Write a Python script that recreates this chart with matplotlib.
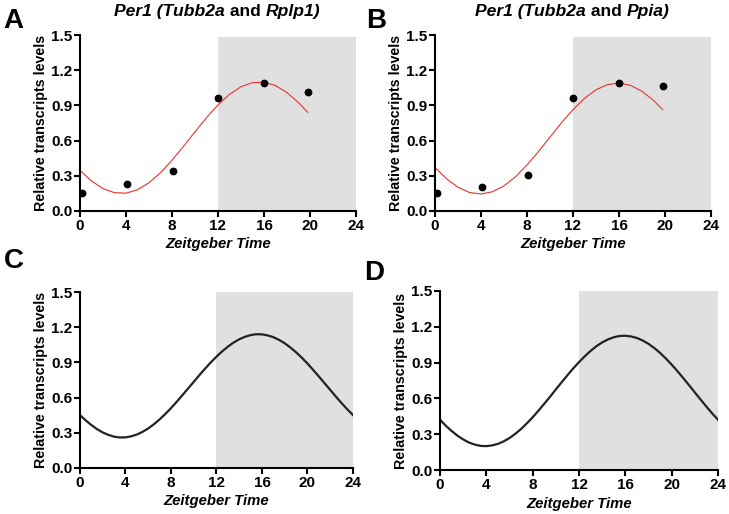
import matplotlib
matplotlib.use("Agg")
import matplotlib.pyplot as plt

plt.rcParams['font.family'] = ['Liberation Sans', 'DejaVu Sans']
plt.rcParams['font.weight'] = 'bold'

# measured Per1 levels (points) for panels A and B
zt_a = [0.2, 4.1, 8.1, 12.0, 16.0, 19.8]
per1_a = [0.15, 0.23, 0.345, 0.96, 1.095, 1.015]
zt_b = [0.2, 4.1, 8.1, 12.0, 16.0, 19.8]
per1_b = [0.15, 0.205, 0.31, 0.96, 1.095, 1.065]

# red fitted curves
fit_x = [0, 1, 2, 3, 4, 5, 6, 7, 8, 9, 10, 11, 12, 13, 14, 15, 16, 17, 18, 19, 19.8]
fit_a = [0.346, 0.256, 0.191, 0.156, 0.152, 0.181, 0.241, 0.326, 0.432, 0.551, 0.675,
         0.795, 0.904, 0.994, 1.059, 1.094, 1.098, 1.069, 1.009, 0.924, 0.841]
fit_b = [0.371, 0.275, 0.202, 0.158, 0.145, 0.164, 0.214, 0.292, 0.392, 0.507, 0.630,
         0.752, 0.864, 0.960, 1.033, 1.077, 1.090, 1.071, 1.020, 0.943, 0.864]

# black model curves for C and D, every half hour
curve_x = [0, 0.5, 1, 1.5, 2, 2.5, 3, 3.5, 4, 4.5, 5, 5.5, 6, 6.5, 7, 7.5, 8, 8.5,
           9, 9.5, 10, 10.5, 11, 11.5, 12, 12.5, 13, 13.5, 14, 14.5, 15, 15.5, 16,
           16.5, 17, 17.5, 18, 18.5, 19, 19.5, 20, 20.5, 21, 21.5, 22, 22.5, 23, 23.5, 24]
curve_c = [0.451, 0.406, 0.366, 0.331, 0.303, 0.282, 0.267, 0.260, 0.261, 0.270,
           0.285, 0.308, 0.337, 0.373, 0.414, 0.460, 0.510, 0.564, 0.620, 0.677,
           0.734, 0.792, 0.847, 0.900, 0.949, 0.994, 1.034, 1.069, 1.097, 1.118,
           1.133, 1.140, 1.139, 1.130, 1.115, 1.092, 1.063, 1.027, 0.986, 0.940,
           0.890, 0.836, 0.780, 0.723, 0.666, 0.608, 0.553, 0.500, 0.451]
curve_d = [0.421, 0.371, 0.327, 0.288, 0.256, 0.230, 0.213, 0.202, 0.200, 0.206,
           0.219, 0.240, 0.268, 0.303, 0.344, 0.391, 0.442, 0.497, 0.555, 0.614,
           0.675, 0.735, 0.794, 0.851, 0.904, 0.953, 0.998, 1.037, 1.069, 1.094,
           1.112, 1.123, 1.125, 1.119, 1.106, 1.085, 1.057, 1.022, 0.981, 0.934,
           0.883, 0.828, 0.770, 0.711, 0.650, 0.590, 0.531, 0.474, 0.421]

xticks = [0, 4, 8, 12, 16, 20, 24]
yticks = [0.0, 0.3, 0.6, 0.9, 1.2, 1.5]

fig = plt.figure(figsize=(7.29, 5.14), dpi=100)

axA = fig.add_axes([0.1097, 0.5895, 0.3786, 0.3424])
axB = fig.add_axes([0.5967, 0.5895, 0.3786, 0.3424])
axC = fig.add_axes([0.1097, 0.0895, 0.3745, 0.3424])
axD = fig.add_axes([0.6036, 0.0856, 0.3813, 0.3483])


def style(ax, shade_top):
    ax.fill_between([12, 24], 0, shade_top, color='#e0e0e0', lw=0, zorder=0)
    ax.set_xlim(0, 24)
    ax.set_ylim(0, 1.5)
    ax.set_xticks(xticks)
    ax.set_yticks(yticks)
    ax.set_yticklabels(['%.1f' % v for v in yticks])
    for s in ['top', 'right']:
        ax.spines[s].set_visible(False)
    for s in ['left', 'bottom']:
        ax.spines[s].set_linewidth(1.5)
    ax.tick_params(width=1.5, length=4, labelsize=11, pad=1.5)
    for lab in ax.get_xticklabels() + ax.get_yticklabels():
        lab.set_fontweight('bold')
    ax.set_xlabel('Zeitgeber Time', fontsize=10.7, fontweight='bold', style='italic', labelpad=3.5)
    ax.set_ylabel('Relative transcripts levels', fontsize=10.3, fontweight='bold', labelpad=2)
    ax.patch.set_alpha(0)


style(axA, 1.48)
axA.plot(fit_x, fit_a, color='#e8332f', lw=0.8, zorder=2)
axA.plot(zt_a, per1_a, 'o', color='black', ms=4.6, zorder=3)

style(axB, 1.48)
axB.plot(fit_x, fit_b, color='#e8332f', lw=0.8, zorder=2)
axB.plot(zt_b, per1_b, 'o', color='black', ms=4.6, zorder=3)

style(axC, 1.5)
axC.plot(curve_x, curve_c, color='#222222', lw=1.6, zorder=2)

style(axD, 1.5)
axD.plot(curve_x, curve_d, color='#222222', lw=1.6, zorder=2)

# panel letters
for x, y, s in [(0.004, 0.959, 'A'), (0.502, 0.959, 'B'), (0.006, 0.492, 'C'), (0.499, 0.469, 'D')]:
    fig.text(x, y, s, fontsize=20, fontweight='bold', va='center')


def rich_title(xc, y, parts):
    fig.canvas.draw()
    r = fig.canvas.get_renderer()
    texts = []
    for s, st in parts:
        t = fig.text(0, y, s, fontsize=12.6, fontweight='bold', style=st, va='center')
        texts.append(t)
    widths = [t.get_window_extent(r).width for t in texts]
    total = sum(widths)
    x0 = xc * fig.bbox.width - total / 2
    for t, w in zip(texts, widths):
        t.set_x(x0 / fig.bbox.width)
        x0 += w


rich_title(0.298, 0.977, [('Per1 (Tubb2a', 'italic'), (' and ', 'normal'), ('Rplp1)', 'italic')])
rich_title(0.785, 0.977, [('Per1 (Tubb2a', 'italic'), (' and ', 'normal'), ('Ppia)', 'italic')])

fig.savefig('out.png', dpi=100)
